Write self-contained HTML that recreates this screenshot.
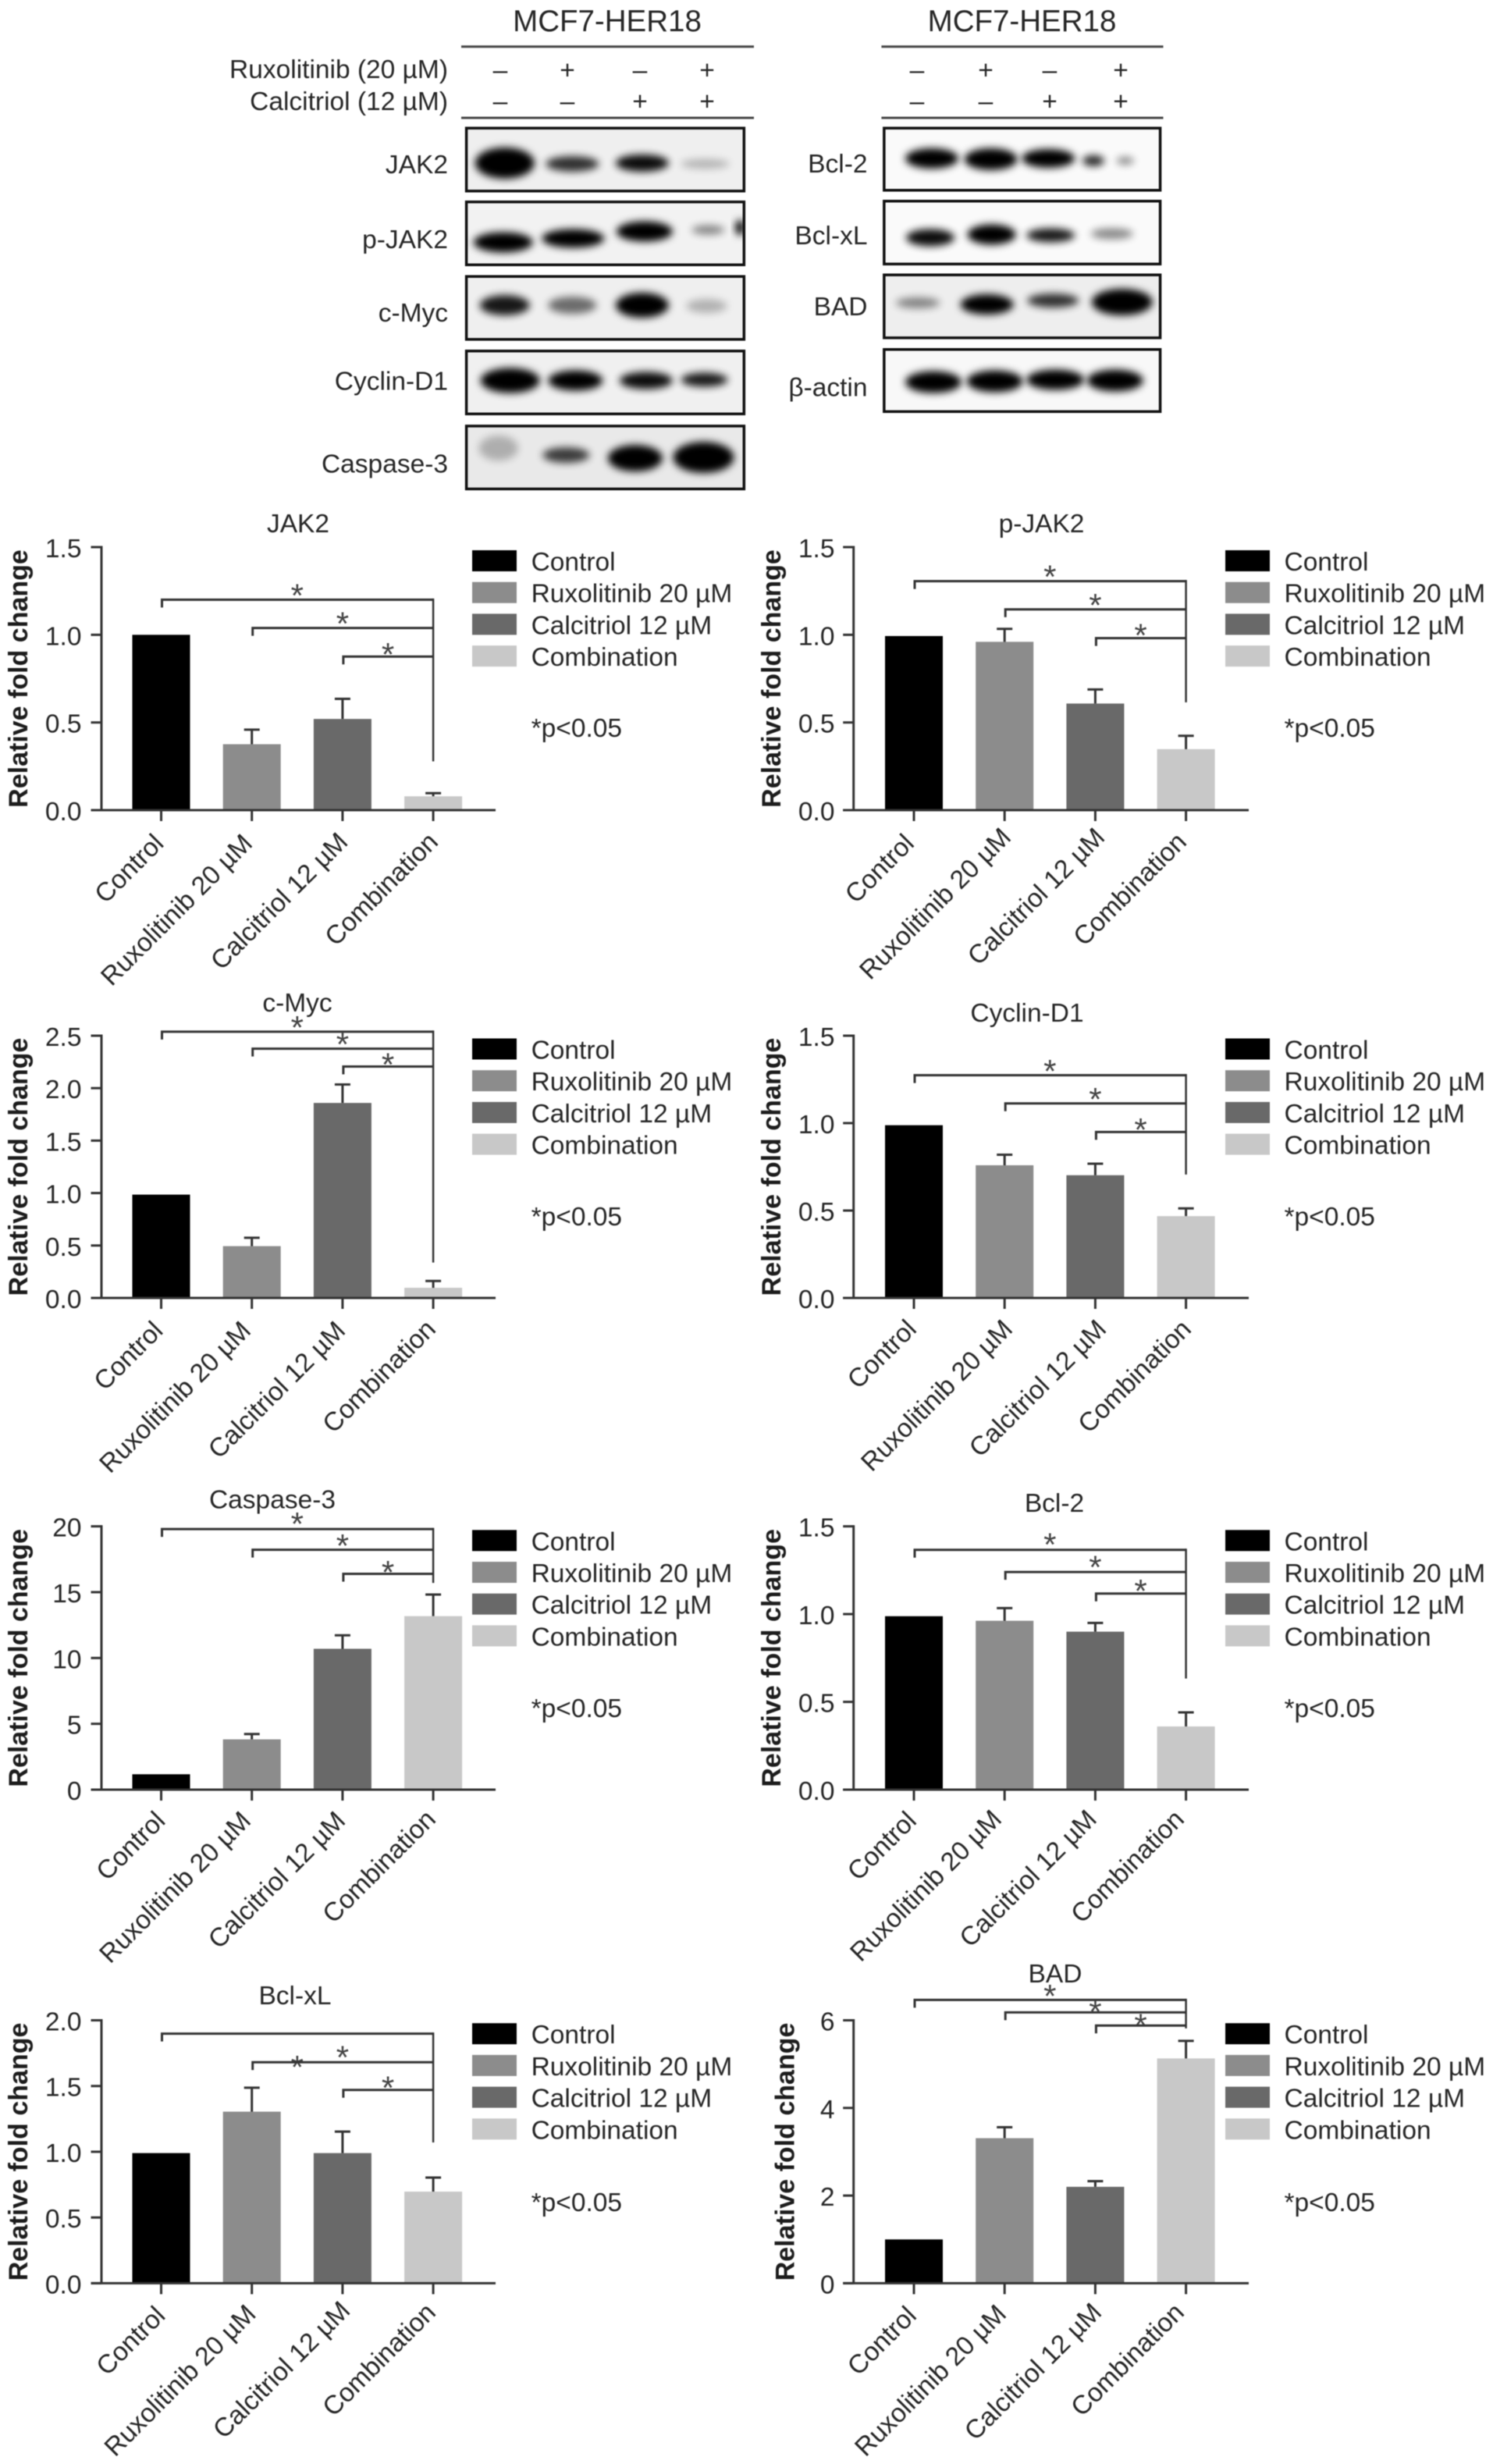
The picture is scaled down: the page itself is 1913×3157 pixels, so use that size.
<!DOCTYPE html>
<html lang="en">
<head>
<meta charset="utf-8">
<title>MCF7-HER18 western blots and relative fold change charts</title>
<style>
  html, body { margin: 0; padding: 0; background: #fff; }
  svg { display: block; filter: blur(0.6px); }
  text { font-family: "Liberation Sans", Arial, sans-serif; fill: #262626; font-size: 33.5px; }
  .head { font-size: 38.5px; }
  .ytitle { font-weight: bold; fill: #1c1c1c; font-size: 34px; }
  .star { font-size: 42px; fill: #444; text-anchor: middle; }
</style>
</head>
<body>
<svg id="figure" xmlns="http://www.w3.org/2000/svg" width="1913" height="3157" viewBox="0 0 1913 3157">
  <defs>
    <filter id="band-blur" x="-50%" y="-100%" width="200%" height="300%"><feGaussianBlur stdDeviation="5"/></filter>
  </defs>
  <g id="blots">
    <text class="head" x="778" y="40" text-anchor="middle">MCF7-HER18</text>
    <text class="head" x="1309.5" y="40" text-anchor="middle">MCF7-HER18</text>
    <line x1="591" x2="966" y1="59.7" y2="59.7" stroke="#444" stroke-width="3"/>
    <line x1="591" x2="966" y1="151" y2="151" stroke="#444" stroke-width="3"/>
    <line x1="1129.4" x2="1490.5" y1="59.7" y2="59.7" stroke="#444" stroke-width="3"/>
    <line x1="1129.4" x2="1490.5" y1="151" y2="151" stroke="#444" stroke-width="3"/>
    <text x="574" y="100" text-anchor="end">Ruxolitinib (20 µM)</text>
    <text x="574" y="141" text-anchor="end">Calcitriol (12 µM)</text>
  </g>
  <g id="charts"></g>
</svg>
<script>
// ---- chart data ----
const categories = ['Control', 'Ruxolitinib 20 µM', 'Calcitriol 12 µM', 'Combination'];

const jak2Ticks = ['0.0', '0.5', '1.0', '1.5'];
const jak2Values = [1.0, 0.376, 0.52, 0.079];
const jak2Errors = [null, 0.459, 0.635, 0.097];
const jak2Brackets = [1.2, 1.039, 0.876];
const jak2BracketEnd = 0.278;
const jak2Stars = [1.254, 1.092, 0.916];

const pJak2Ticks = ['0.0', '0.5', '1.0', '1.5'];
const pJak2Values = [0.993, 0.96, 0.608, 0.348];
const pJak2Errors = [null, 1.034, 0.688, 0.424];
const pJak2Brackets = [1.306, 1.145, 0.981];
const pJak2BracketEnd = 0.615;
const pJak2Stars = [1.359, 1.197, 1.025];

const cMycTicks = ['0.0', '0.5', '1.0', '1.5', '2.0', '2.5'];
const cMycValues = [0.985, 0.494, 1.859, 0.097];
const cMycErrors = [null, 0.574, 2.035, 0.162];
const cMycBrackets = [2.538, 2.376, 2.206];
const cMycBracketEnd = 0.338;
const cMycStars = [2.626, 2.465, 2.274];

const cyclinTicks = ['0.0', '0.5', '1.0', '1.5'];
const cyclinValues = [0.988, 0.759, 0.702, 0.468];
const cyclinErrors = [null, 0.819, 0.768, 0.512];
const cyclinBrackets = [1.274, 1.113, 0.949];
const cyclinBracketEnd = 0.706;
const cyclinStars = [1.327, 1.165, 0.992];

const caspaseTicks = ['0', '5', '10', '15', '20'];
const caspaseValues = [1.17, 3.82, 10.7, 13.18];
const caspaseErrors = [null, 4.22, 11.72, 14.82];
const caspaseBrackets = [19.79, 18.22, 16.39];
const caspaseBracketEnd = 15.7;
const caspaseStars = [20.56, 18.92, 16.88];

const bcl2Ticks = ['0.0', '0.5', '1.0', '1.5'];
const bcl2Values = [0.988, 0.962, 0.9, 0.36];
const bcl2Errors = [null, 1.034, 0.95, 0.44];
const bcl2Brackets = [1.366, 1.24, 1.117];
const bcl2BracketEnd = 0.633;
const bcl2Stars = [1.424, 1.296, 1.16];

const bclxlTicks = ['0.0', '0.5', '1.0', '1.5', '2.0'];
const bclxlValues = [0.99, 1.305, 0.99, 0.697];
const bclxlErrors = [null, 1.487, 1.153, 0.804];
const bclxlBrackets = [1.898, 1.681, 1.47];
const bclxlBracketEnd = 1.071;
const bclxlStars = [1.681, 1.756, 1.524];

const badTicks = ['0', '2', '4', '6'];
const badValues = [1.0, 3.31, 2.2, 5.13];
const badErrors = [null, 3.56, 2.33, 5.53];
const badBrackets = [6.465, 6.18, 5.88];
const badBracketEnd = 5.815;
const badStars = [6.67, 6.315, 6.0];

// ---- layout (separate from data) ----
const barColors = ['#000000', '#8c8c8c', '#696969', '#c8c8c8'];
const SVGNS = 'http://www.w3.org/2000/svg';
const chartsRoot = document.getElementById('charts');
const blotsRoot = document.getElementById('blots');

function el(tag, attrs, parent, text) {
  const n = document.createElementNS(SVGNS, tag);
  for (const k in attrs) n.setAttribute(k, attrs[k]);
  if (text !== undefined) n.textContent = text;
  parent.appendChild(n);
  return n;
}

const columns = {
  left:  { axisX: 130, firstX: 206.5, legendX: 605, textX: 680.6, ytitleX: 35, tickEnd: 104.5, axisEnd: 635 },
  right: { axisX: 1093.7, firstX: 1171, legendX: 1570, textX: 1645.5, ytitleX: 1000, tickEnd: 1069.5, axisEnd: 1600 }
};

const panels = [
  { id: 'jak2', title: 'JAK2', col: 'left', top: 701, bottom: 1038, titleX: 382, titleY: 670, legendTop: 705, noteY: 932,
    ticks: jak2Ticks, values: jak2Values, errors: jak2Errors, brackets: jak2Brackets, end: jak2BracketEnd, stars: jak2Stars,
    labelDx: [5, 2.5, 8.6, 8], labelDy: [27.6, 27.6, 25.6, 25.6] },
  { id: 'p-jak2', title: 'p-JAK2', col: 'right', top: 701, bottom: 1038, titleX: 1334.5, titleY: 670, legendTop: 705, noteY: 932,
    ticks: pJak2Ticks, values: pJak2Values, errors: pJak2Errors, brackets: pJak2Brackets, end: pJak2BracketEnd, stars: pJak2Stars,
    labelDx: [2, 10, 14, 2.5], labelDy: [27.6, 19.6, 19.6, 25.6] },
  { id: 'c-myc', title: 'c-Myc', col: 'left', top: 1327, bottom: 1663, titleX: 381, titleY: 1284, legendTop: 1330.5, noteY: 1558,
    ticks: cMycTicks, values: cMycValues, errors: cMycErrors, brackets: cMycBrackets, end: cMycBracketEnd, stars: cMycStars,
    labelDx: [4, 0.6, 5.5, 5], labelDy: [26.8, 26.8, 26.8, 24.8] },
  { id: 'cyclin-d1', title: 'Cyclin-D1', col: 'right', top: 1327, bottom: 1663, titleX: 1316, titleY: 1297, legendTop: 1330.5, noteY: 1558,
    ticks: cyclinTicks, values: cyclinValues, errors: cyclinErrors, brackets: cyclinBrackets, end: cyclinBracketEnd, stars: cyclinStars,
    labelDx: [5, 12, 16, 8.5], labelDy: [24.8, 24.8, 24.8, 24.8] },
  { id: 'caspase-3', title: 'Caspase-3', col: 'left', top: 1955.6, bottom: 2293, titleX: 349, titleY: 1920.5, legendTop: 1960.3, noteY: 2188,
    ticks: caspaseTicks, values: caspaseValues, errors: caspaseErrors, brackets: caspaseBrackets, end: caspaseBracketEnd, stars: caspaseStars,
    labelDx: [7, 0.6, 5.5, 5], labelDy: [24.8, 24.8, 24.8, 22.8] },
  { id: 'bcl-2', title: 'Bcl-2', col: 'right', top: 1955.6, bottom: 2293, titleX: 1351, titleY: 1925, legendTop: 1960.3, noteY: 2188,
    ticks: bcl2Ticks, values: bcl2Values, errors: bcl2Errors, brackets: bcl2Brackets, end: bcl2BracketEnd, stars: bcl2Stars,
    labelDx: [5, -2, 3.6, -0.6], labelDy: [24.8, 22.8, 22.8, 22.8] },
  { id: 'bcl-xl', title: 'Bcl-xL', col: 'left', top: 2588.5, bottom: 2925.4, titleX: 378, titleY: 2556, legendTop: 2592.2, noteY: 2821,
    ticks: bclxlTicks, values: bclxlValues, errors: bclxlErrors, brackets: bclxlBrackets, end: bclxlBracketEnd, stars: bclxlStars,
    labelDx: [7, 7, 11.6, 5], labelDy: [26.5, 24.4, 20, 22.3] },
  { id: 'bad', title: 'BAD', col: 'right', top: 2588.5, bottom: 2925.4, titleX: 1352, titleY: 2528, legendTop: 2592.2, noteY: 2821, ytitleX: 1017.5,
    ticks: badTicks, values: badValues, errors: badErrors, brackets: badBrackets, end: badBracketEnd, stars: badStars,
    labelDx: [5, 4, 10, -0.6], labelDy: [26.5, 24.4, 22.3, 22.3] }
];

const STEP = 116.2, BAR_W = 74, INK = '#333', SW = 3;

function drawPanel(p) {
  const c = columns[p.col];
  const maxV = parseFloat(p.ticks[p.ticks.length - 1]);
  const y = v => p.bottom - (v / maxV) * (p.bottom - p.top);
  const x = i => c.firstX + i * STEP;

  const g = el('g', {}, chartsRoot);
  
  

  const title = el('text', { x: p.titleX, y: p.titleY + 12, 'text-anchor': 'middle' }, g, p.title);
  
  

  // bars
  p.values.forEach((v, i) => {
    const bar = el('rect', { x: x(i) - BAR_W / 2, y: y(v), width: BAR_W, height: p.bottom - y(v), fill: barColors[i] }, g);
    
    
  });

  // error bars
  p.errors.forEach((e, i) => {
    if (e === null) return;
    const path = el('path', {
      d: 'M' + x(i) + ' ' + y(p.values[i]) + 'V' + y(e) + 'M' + (x(i) - 10) + ' ' + y(e) + 'H' + (x(i) + 10),
      stroke: INK, 'stroke-width': SW, fill: 'none'
    }, g);
    
    
  });

  // y axis
  const yAxis = el('line', { x1: c.axisX, x2: c.axisX, y1: p.top - 1.5, y2: p.bottom, stroke: INK, 'stroke-width': SW }, g);
  
  
  p.ticks.forEach(t => {
    const v = parseFloat(t);
    const tick = el('line', { x1: c.axisX - 13.5, x2: c.axisX, y1: y(v), y2: y(v), stroke: INK, 'stroke-width': SW }, g);
    
    
    const lab = el('text', { x: c.tickEnd, y: y(v) + 13, 'text-anchor': 'end' }, g, t);
    
    
  });

  // y title
  const ytx = p.ytitleX || c.ytitleX;
  const yt = el('text', { class: 'ytitle', x: ytx, y: (p.top + p.bottom) / 2, 'text-anchor': 'middle',
    transform: 'rotate(-90 ' + ytx + ' ' + (p.top + p.bottom) / 2 + ')' }, g, 'Relative fold change');
  
  

  // x axis
  const xAxis = el('line', { x1: c.axisX - 13.5, x2: c.axisEnd, y1: p.bottom, y2: p.bottom, stroke: INK, 'stroke-width': SW }, g);
  
  
  categories.forEach((name, i) => {
    const tick = el('line', { x1: x(i), x2: x(i), y1: p.bottom, y2: p.bottom + 14, stroke: INK, 'stroke-width': SW }, g);
    
    
    const ex = x(i) + p.labelDx[i], ey = p.bottom + p.labelDy[i] + 17;
    const lab = el('text', { x: ex, y: ey, 'text-anchor': 'end', transform: 'rotate(-45 ' + ex + ' ' + ey + ')' }, g, name);
    
    
  });

  // significance brackets
  const spine = el('line', { x1: x(3), x2: x(3), y1: y(p.brackets[0]) - 1.5, y2: y(p.end), stroke: INK, 'stroke-width': 2.5 }, g);
  
  
  p.brackets.forEach((level, i) => {
    const br = el('path', {
      d: 'M' + (x(i) + 1) + ' ' + (y(level) + 10) + 'V' + y(level) + 'H' + x(3),
      stroke: INK, 'stroke-width': SW, fill: 'none'
    }, g);
    
    
    const sx = (x(i) + x(3)) / 2;
    const star = el('text', { class: 'star', x: sx, y: y(p.stars[i]) + 21 }, g, '*');
    
    
  });

  // legend
  categories.forEach((name, i) => {
    const ly = p.legendTop + i * 40.7;
    const sw = el('rect', { x: c.legendX, y: ly, width: 57, height: 27, fill: barColors[i] }, g);
    
    
    const lt = el('text', { x: c.textX, y: ly + 26 }, g, name);
    
    
  });

  const note = el('text', { x: c.textX, y: p.noteY + 12 }, g, '*p<0.05');
  
  
}

panels.forEach(drawPanel);

// ---- western blot panels (photographic bands approximated with blurred ellipses) ----
const signXLeft = [641, 727, 820, 906];
const signXRight = [1175, 1263, 1345, 1436];
const ruxSigns = ['–', '+', '–', '+'];
const calSigns = ['–', '–', '+', '+'];

function drawSigns(xs, side) {
  xs.forEach((sx, i) => {
    const a = el('text', { x: sx, y: 101, 'text-anchor': 'middle' }, blotsRoot, ruxSigns[i]);
    
    
    const b = el('text', { x: sx, y: 141, 'text-anchor': 'middle' }, blotsRoot, calSigns[i]);
    
    
  });
}
drawSigns(signXLeft, 'left');
drawSigns(signXRight, 'right');

const blotPanels = [
  { name: 'JAK2', x: 600.6, y: 165, w: 357.5, h: 81, labelX: 574, labelY: 211, bg: '#efefef', bands: [
    [650, 210, 38, 20, 1], [737, 211, 34, 10, 0.8], [827, 210, 34, 11, 0.95], [908, 211, 31, 6, 0.25]] },
  { name: 'p-JAK2', x: 600.6, y: 260, w: 357.5, h: 81, labelX: 574, labelY: 307.5, bg: '#f2f2f2', bands: [
    [648, 312, 38, 13, 1], [738, 307, 40, 12, 1], [830, 298, 36, 13, 1], [912, 296, 21, 6, 0.45], [953, 293, 6, 10, 1]] },
  { name: 'c-Myc', x: 600.6, y: 356, w: 357.5, h: 81, labelX: 574, labelY: 402, bg: '#efefef', bands: [
    [650, 393, 32, 13, 0.9], [737, 393, 31, 11, 0.55], [827, 393, 34, 16, 1], [910, 394, 26, 9, 0.25]] },
  { name: 'Cyclin-D1', x: 600.6, y: 452, w: 357.5, h: 81, labelX: 574, labelY: 490, bg: '#f0f0f0', bands: [
    [657, 490, 38, 16, 1], [741, 490, 35, 13, 1], [832, 490, 34, 11, 0.95], [907, 489, 30, 9, 0.9]] },
  { name: 'Caspase-3', x: 600.6, y: 548.6, w: 357.5, h: 81, labelX: 574, labelY: 596.5, bg: '#e9e9e9', bands: [
    [642, 577, 25, 16, 0.25], [729, 586, 30, 10, 0.75], [818, 590, 35, 17, 1], [906, 589, 39, 20, 1]] },
  { name: 'Bcl-2', x: 1133.5, y: 165, w: 355.5, h: 80, labelX: 1111.5, labelY: 210, bg: '#fafafa', bands: [
    [1195, 204, 34, 13, 1], [1271, 205, 34, 14, 1], [1345, 204, 34, 12, 1], [1403, 207, 14, 7, 0.85], [1444, 207, 11, 5, 0.45]] },
  { name: 'Bcl-xL', x: 1133.5, y: 259, w: 355.5, h: 81, labelX: 1111.5, labelY: 302.6, bg: '#fafafa', bands: [
    [1193, 306, 31, 11, 0.95], [1272, 302, 31, 13, 1], [1348, 303, 31, 9, 0.9], [1427, 301, 27, 7, 0.45]] },
  { name: 'BAD', x: 1133.5, y: 354, w: 355.5, h: 81, labelX: 1111.5, labelY: 394, bg: '#eeeeee', bands: [
    [1177, 390, 28, 7, 0.45], [1266, 392, 34, 13, 1], [1351, 387, 33, 9, 0.8], [1440, 389, 39, 17, 1]] },
  { name: 'β-actin', x: 1133.5, y: 450, w: 355.5, h: 80, labelX: 1111.5, labelY: 498, bg: '#f8f8f8', bands: [
    [1197, 492, 36, 14, 1], [1276, 491, 36, 14, 1], [1354, 489, 37, 13, 1], [1431, 490, 36, 14, 1]] }
];

blotPanels.forEach((b, bi) => {
  const slug = b.name.toLowerCase().replace('β', 'beta');
  const fx = b.x < 1000 ? (v => v * 0.995) : (v => 1000 + (v - 1000) * 0.995);
  const fy = v => v * 0.995;
  const bx = fx(b.x), by = fy(b.y), bw = b.w * 0.995, bh = b.h * 0.995;

  const label = el('text', { x: b.labelX, y: fy(b.labelY) + 12, 'text-anchor': 'end' }, blotsRoot, b.name);
  
  

  const clip = el('clipPath', { id: 'blot-clip-' + bi }, blotsRoot);
  el('rect', { x: bx, y: by, width: bw, height: bh }, clip);

  const group = el('g', { 'clip-path': 'url(#blot-clip-' + bi + ')' }, blotsRoot);
  
  

  el('rect', { x: bx, y: by, width: bw, height: bh, fill: b.bg }, group);
  b.bands.forEach((s, si) => {
    const band = el('ellipse', { cx: fx(s[0]), cy: fy(s[1]), rx: s[2], ry: s[3], fill: '#000', opacity: s[4], filter: 'url(#band-blur)' }, group);
    
    
  });

  const frame = el('rect', { x: bx, y: by, width: bw, height: bh, fill: 'none', stroke: '#111', 'stroke-width': 3.5 }, blotsRoot);
  
  
});
</script>
</body>
</html>
